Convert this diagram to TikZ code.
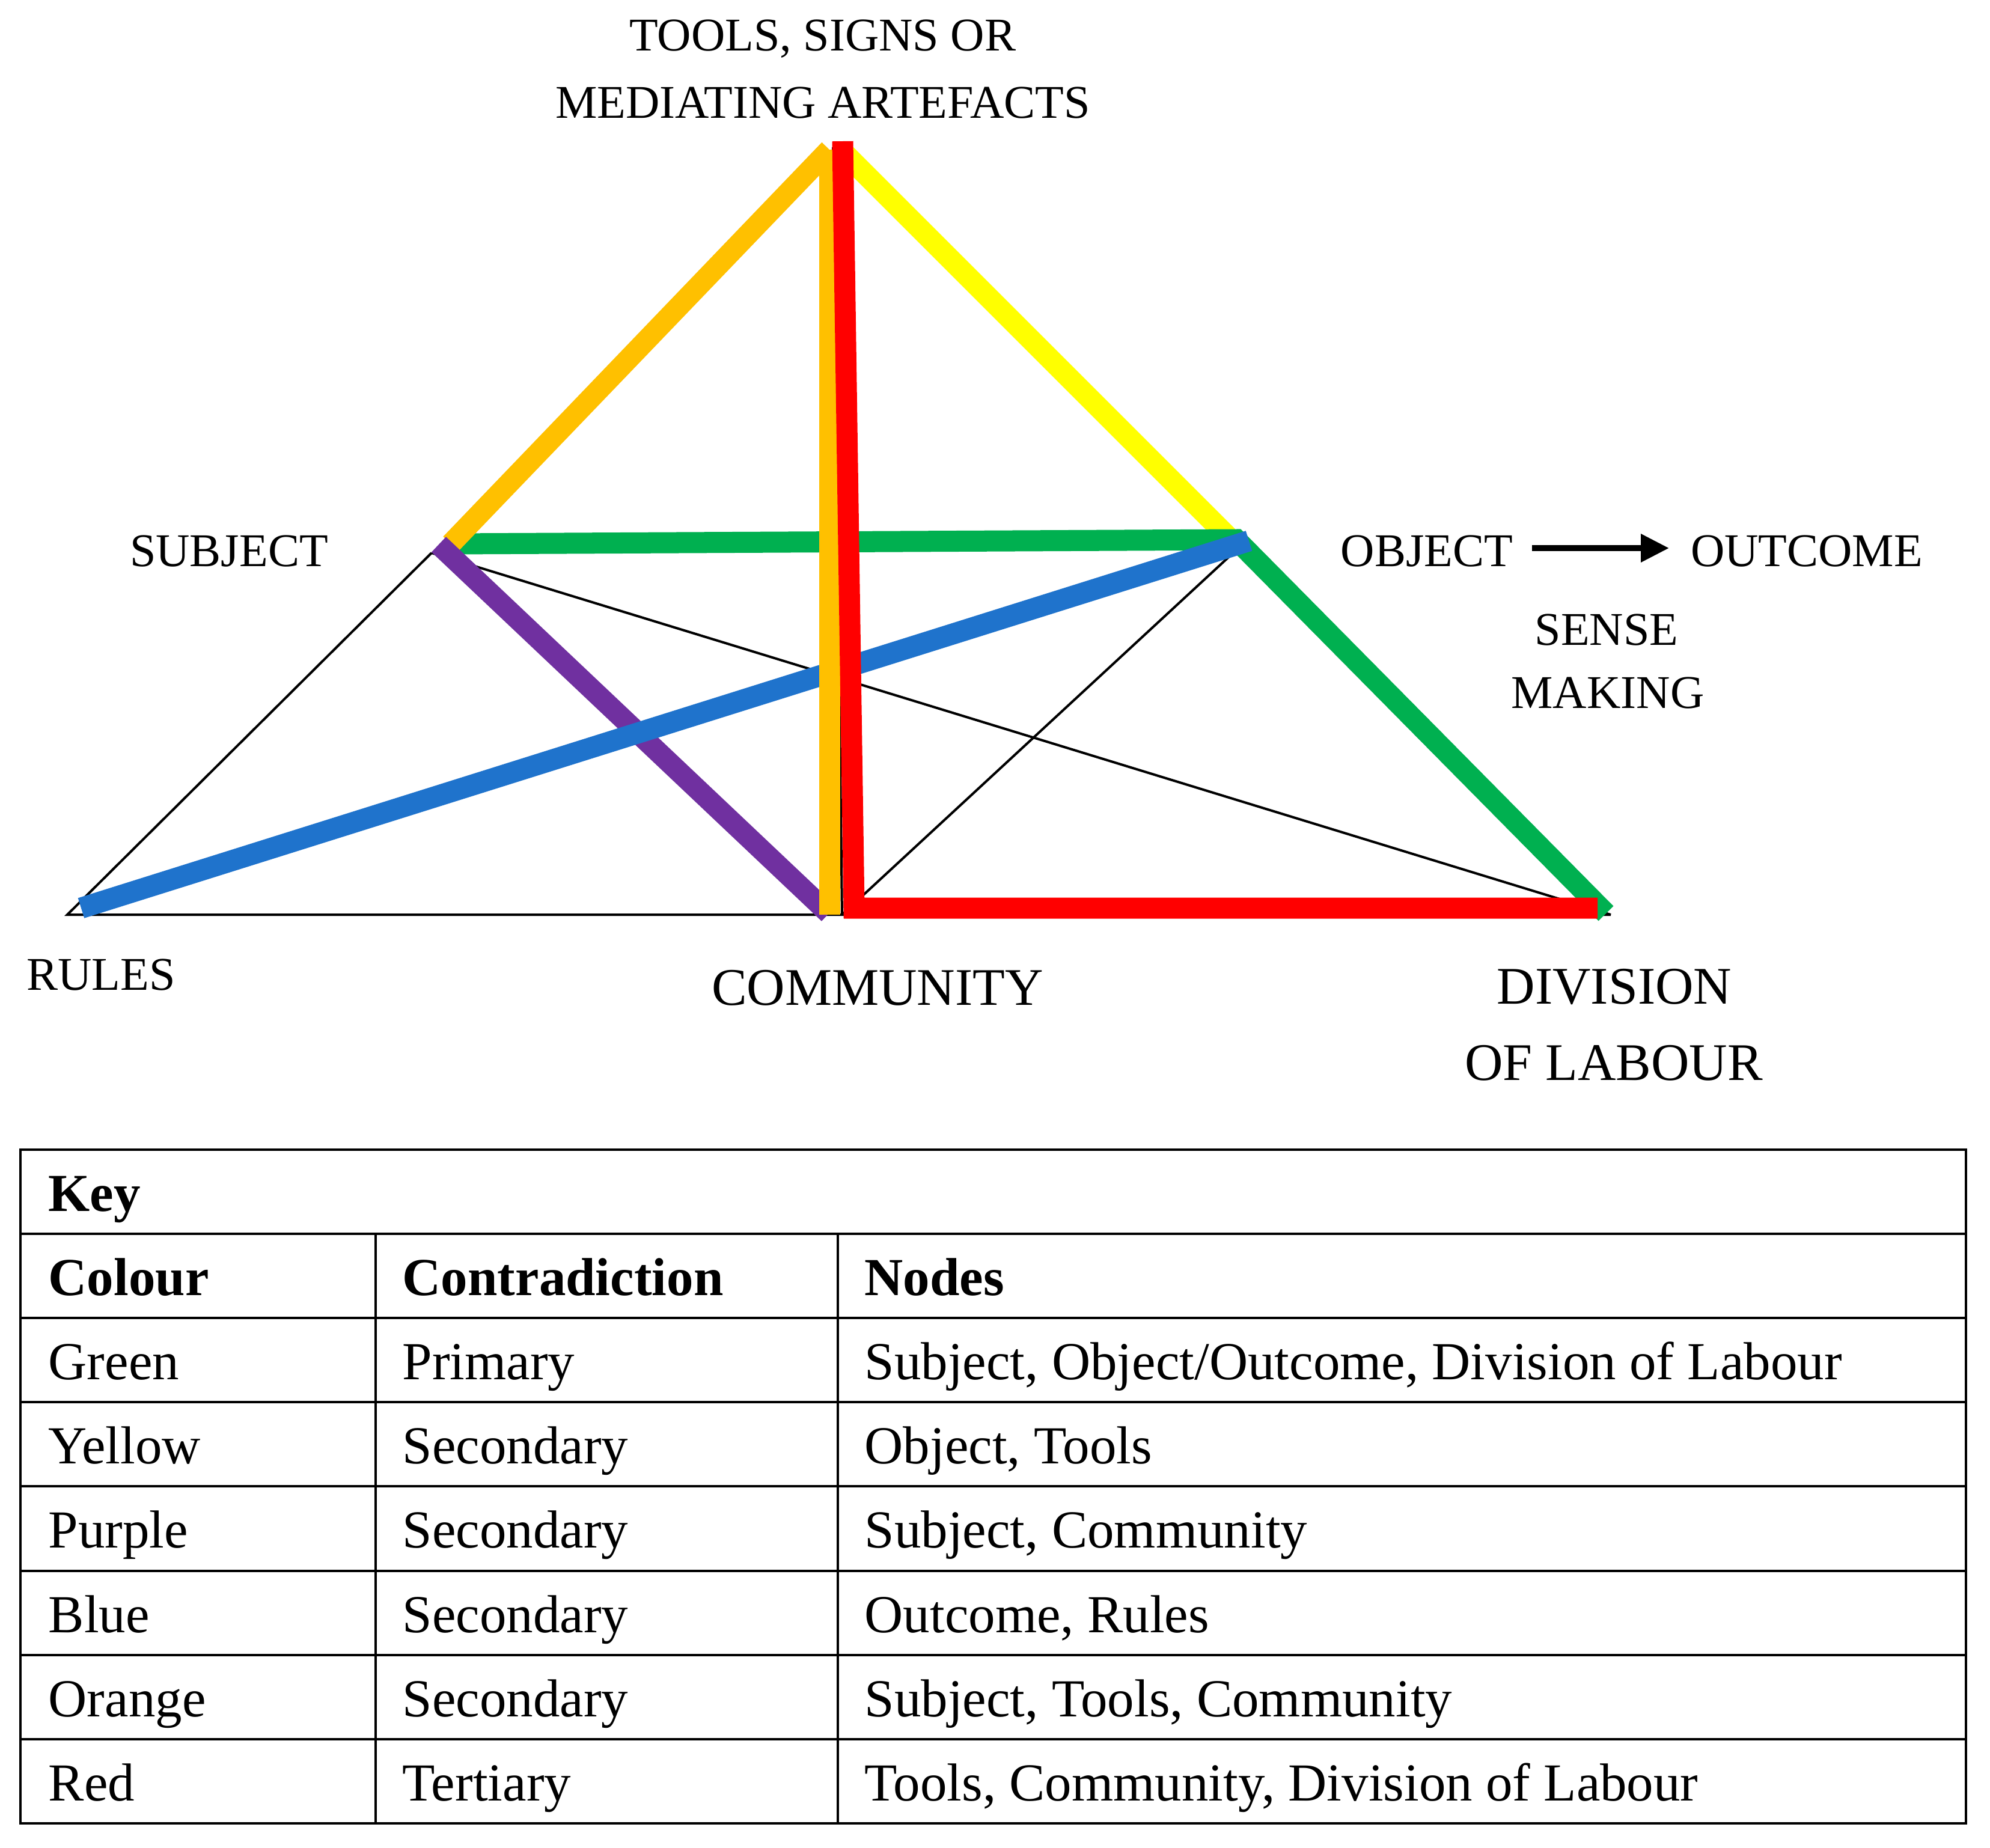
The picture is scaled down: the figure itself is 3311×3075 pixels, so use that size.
\documentclass[tikz,border=0pt]{standalone}
\usepackage{fontspec}
\setmainfont{Liberation Serif}
\usetikzlibrary{arrows.meta}
\definecolor{cgreen}{RGB}{0,176,80}
\definecolor{cyellow}{RGB}{255,255,0}
\definecolor{corange}{RGB}{255,192,0}
\definecolor{cpurple}{RGB}{112,48,160}
\definecolor{cblue}{RGB}{31,115,204}
\definecolor{cred}{RGB}{255,0,0}
\begin{document}
\begin{tikzpicture}[x=0.01cm,y=-0.01cm,
  band/.style={line width=0.35cm, line cap=butt, line join=miter},
  blackline/.style={line width=0.04cm, black, line join=miter},
  lbl/.style={inner sep=0pt, anchor=base, font=\fontsize{22.2pt}{26pt}\selectfont},
  biglbl/.style={inner sep=0pt, anchor=base, font=\fontsize{25pt}{30pt}\selectfont},
  cell/.style={inner sep=0pt, anchor=base west, font=\fontsize{25.3pt}{30pt}\selectfont},
  hcell/.style={inner sep=0pt, anchor=base west, font=\fontsize{25.3pt}{30pt}\selectfont\bfseries},
  gridline/.style={line width=0.04cm, black}]
\fill[white] (0,0) rectangle (3311,3075);
\useasboundingbox (0,0) rectangle (3311,3075);

% labels
\node[lbl] (tools1) at (1369,84) {TOOLS, SIGNS OR};
\node[lbl] (tools2) at (1369,196) {MEDIATING ARTEFACTS};
\node[lbl] (subj) at (381,942) {SUBJECT};
\node[lbl] (obj) at (2374,942) {OBJECT};
\node[lbl] (outc) at (3006,942) {OUTCOME};
\node[lbl] (sense1) at (2673,1073) {SENSE};
\node[lbl] (sense2) at (2675,1178) {MAKING};
\node[lbl] (rules) at (168,1647) {RULES};
\node[biglbl] (comm) at (1460,1672) {COMMUNITY};
\node[biglbl] (div1) at (2686,1670) {DIVISION};
\node[biglbl] (div2) at (2685,1797) {OF LABOUR};

% arrow object -> outcome
\coordinate (arrA) at (2549,912);
\coordinate (arrB) at (2777,912);
\draw[line width=0.1cm, -{Triangle[length=0.47cm,width=0.45cm]}] (arrA) -- (arrB);

% black triangle vertices
\coordinate (bS) at (718,920);
\coordinate (bR) at (112,1522);
\coordinate (bC) at (1401,1522);
\coordinate (bD) at (2680,1522);
\coordinate (bO) at (2068,905);
\coordinate (bT) at (1386,245);
\draw[blackline] (bS) -- (bR) -- (bC) -- (bD);
\draw[blackline] (bS) -- (bD);
\draw[blackline] (bO) -- (bC);
\draw[blackline] (bT) -- (bC);

% coloured band end points
\coordinate (yT) at (1400,250);
\coordinate (yO) at (2052,902);
\coordinate (gS) at (752,905);
\coordinate (gO) at (2057,898);
\coordinate (gD) at (2672,1520);
\coordinate (oS) at (750,905);
\coordinate (oT) at (1380,249);
\coordinate (oC) at (1380,1522);
\coordinate (pS) at (730,906);
\coordinate (pC) at (1379,1520);
\coordinate (blR) at (135,1511);
\coordinate (blO) at (2078,900);
\coordinate (rT) at (1402,235);
\coordinate (rC) at (1421,1511);
\coordinate (rD) at (2658,1511);

\draw[band, cyellow] (yT) -- (yO);
\draw[band, cgreen] (gS) -- (gO) -- (gD);
\draw[band, corange] (oS) -- (oT);
\draw[band, cpurple] (pS) -- (pC);
\draw[band, cblue] (blR) -- (blO);
\draw[band, corange] (oT) -- (oC);
\draw[band, cred] (rT) -- (rC) -- (rD);

% key table
\draw[gridline] (34,1913) rectangle (3271,3034);
\foreach \yy in {2053,2193,2333,2473,2614,2754,2894}
  \draw[gridline] (34,\yy) -- (3271,\yy);
\draw[gridline] (625,2053) -- (625,3034);
\draw[gridline] (1394,2053) -- (1394,3034);

\node[hcell] (key) at (80,2015) {Key};
\node[hcell] (h1) at (80,2155) {Colour};
\node[hcell] (h2) at (669,2155) {Contradiction};
\node[hcell] (h3) at (1438,2155) {Nodes};

\node[cell] (r1a) at (80,2295) {Green};
\node[cell] (r1b) at (669,2295) {Primary};
\node[cell] (r1c) at (1438,2295) {Subject, Object/Outcome, Division of Labour};

\node[cell] (r2a) at (80,2435) {Yellow};
\node[cell] (r2b) at (669,2435) {Secondary};
\node[cell] (r2c) at (1438,2435) {Object, Tools};

\node[cell] (r3a) at (80,2575) {Purple};
\node[cell] (r3b) at (669,2575) {Secondary};
\node[cell] (r3c) at (1438,2575) {Subject, Community};

\node[cell] (r4a) at (80,2716) {Blue};
\node[cell] (r4b) at (669,2716) {Secondary};
\node[cell] (r4c) at (1438,2716) {Outcome, Rules};

\node[cell] (r5a) at (80,2856) {Orange};
\node[cell] (r5b) at (669,2856) {Secondary};
\node[cell] (r5c) at (1438,2856) {Subject, Tools, Community};

\node[cell] (r6a) at (80,2996) {Red};
\node[cell] (r6b) at (669,2996) {Tertiary};
\node[cell] (r6c) at (1438,2996) {Tools, Community, Division of Labour};
\end{tikzpicture}
\end{document}
